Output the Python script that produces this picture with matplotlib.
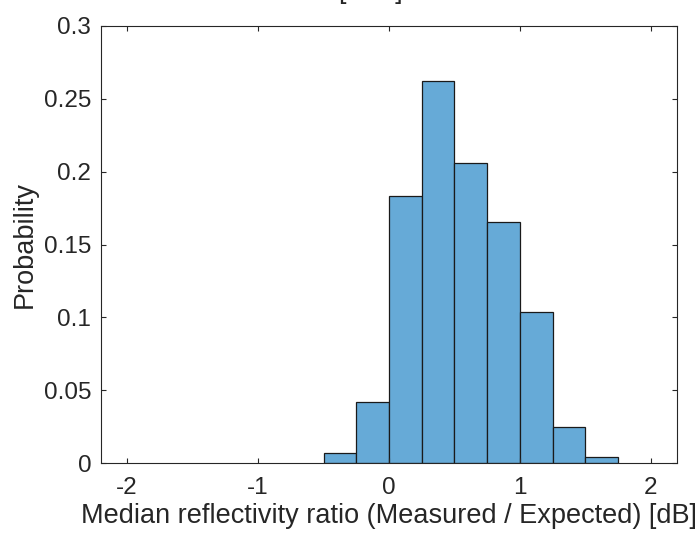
import numpy as np
import matplotlib
matplotlib.use("Agg")
import matplotlib.pyplot as plt

# histogram of median reflectivity ratio (bin edges in dB, normalized probability)
bin_edges = [-0.5, -0.25, 0.0, 0.25, 0.5, 0.75, 1.0, 1.25, 1.5, 1.75]
probability = [0.0067, 0.0421, 0.1835, 0.2625, 0.2062, 0.1654, 0.1034, 0.0247, 0.0043]
x_ticks = [-2, -1, 0, 1, 2]
x_ticklabels = ["-2", "-1", "0", "1", "2"]
y_ticks = [0, 0.05, 0.1, 0.15, 0.2, 0.25, 0.3]
y_ticklabels = ["0", "0.05", "0.1", "0.15", "0.2", "0.25", "0.3"]

AX_COLOR = "#262626"
FACE = (0.4, 0.668, 0.845)  # matlab default blue at FaceAlpha 0.6

plt.rcParams["font.family"] = ["Liberation Sans", "DejaVu Sans"]

fig = plt.figure(figsize=(6.99, 5.41), dpi=100)
ax = fig.add_axes([101 / 699, 1 - 463 / 541, (677 - 101) / 699, (463 - 26) / 541])

edges = np.asarray(bin_edges)
ax.bar(edges[:-1], probability, width=np.diff(edges), align="edge",
       color=FACE, edgecolor="#1a1a1a", linewidth=0.9)

ax.set_xlim(-2.2, 2.2)
ax.set_ylim(0, 0.3)
ax.set_xticks(x_ticks, x_ticklabels)
ax.set_yticks(y_ticks, y_ticklabels)
ax.tick_params(direction="in", length=3.6, width=0.8, top=True, right=True,
               labelsize=17.5, colors=AX_COLOR)
ax.tick_params(axis="x", pad=10)
ax.tick_params(axis="y", pad=7)
for s in ax.spines.values():
    s.set_color(AX_COLOR)
    s.set_linewidth(0.8)

ax.set_xlabel("Median reflectivity ratio (Measured / Expected) [dB]",
              fontsize=19.5, color=AX_COLOR, labelpad=3)
ax.set_ylabel("Probability", fontsize=19.5, color=AX_COLOR, labelpad=4)

# title sits above the visible canvas; only the bracket tails show
fig.text(370 / 699, 1 + 1.5 / 541, "[dBZ]", ha="center", va="baseline",
         fontsize=19.5, color=AX_COLOR)

fig.savefig("out.png", dpi=100)
